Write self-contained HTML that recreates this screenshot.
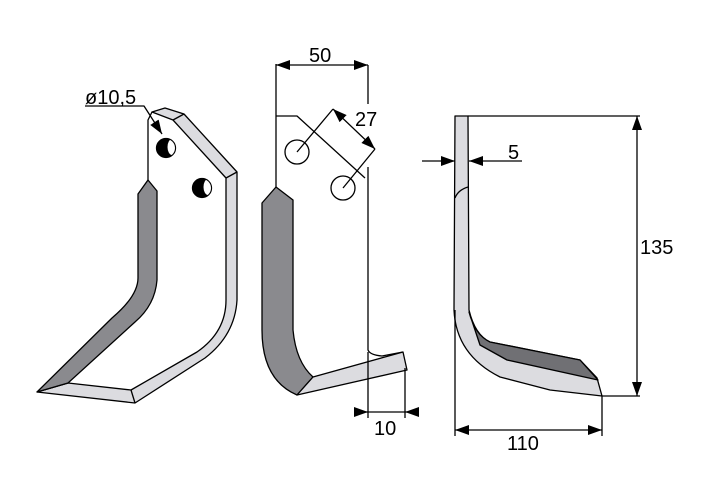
<!DOCTYPE html>
<html><head><style>body{margin:0;background:#fff}svg{display:block}text{font-family:"Liberation Sans",sans-serif;font-size:20px;fill:#000}</style></head>
<body>
<svg width="712" height="500" viewBox="0 0 712 500" xmlns="http://www.w3.org/2000/svg">
<defs>
<marker id="b" viewBox="0 0 14 10" refX="14" refY="5" markerWidth="14" markerHeight="10" markerUnits="userSpaceOnUse" orient="auto-start-reverse"><path d="M0,0 L14,5 L0,10 z" fill="#000"/></marker>
<clipPath id="h1"><circle cx="166" cy="148" r="9"/></clipPath>
<clipPath id="h2"><circle cx="202" cy="188" r="9"/></clipPath>
</defs>
<g stroke="#000" stroke-width="1.3" stroke-linejoin="round">
<!-- LEFT BLADE -->
<path d="M152,112 L165,108 L184,114 L237,172 L237,300 Q235,335 205,358 L135,403 L37,392 L68,383 L131,390 L197,352 Q226,332 226,300 L226,178 L173,120 Z" fill="#dcdce0"/>
<path d="M173,120 L184,114 M226,178 L237,172 M131,390 L135,403 M68,383 L37,392" fill="none"/>
<path d="M148,180 L157,191 L157,280 Q155,305 135,322 L68,383 L37,392 L112,318 Q138,296 138,278 L138,194 Z" fill="#8a8a8e"/>
<path d="M148,180 L148,120 L152,112" fill="none"/>
<circle cx="166" cy="148" r="9.5" fill="#000"/>
<ellipse cx="172" cy="147" rx="4.5" ry="8" fill="#fff" stroke="none" clip-path="url(#h1)"/>
<circle cx="202" cy="188" r="9.5" fill="#000"/>
<ellipse cx="208" cy="187" rx="4.5" ry="8" fill="#fff" stroke="none" clip-path="url(#h2)"/>
<path d="M85,106 L144,106 L162,134" fill="none" marker-end="url(#b)"/>
<!-- MIDDLE BLADE -->
<path d="M276,64 L276,187 M368,65 L368,104 M368,167 L368,350 Q370,355 382,356 L403,352" fill="none"/>
<path d="M276,116 L297,116 L365,178" fill="none"/>
<circle cx="297" cy="152" r="12" fill="#fff"/><circle cx="343" cy="188" r="12" fill="#fff"/>
<path d="M297,152 L333,109 M343,188 L375,149" fill="none"/>
<path d="M333,109 L375,149" fill="none" marker-start="url(#b)" marker-end="url(#b)"/>
<path d="M276,65 L368,65" fill="none" marker-start="url(#b)" marker-end="url(#b)"/>
<path d="M276,187 L293,200 L293,330 Q296,362 313,377 L297,395 Q262,380 262,330 L262,203 Z" fill="#8a8a8e"/>
<path d="M313,377 L403,352 L407,370 L297,395 Z" fill="#dcdce0"/>
<path d="M368,352 L368,418 M405,368 L405,418" fill="none"/>
<path d="M354,412 L368,412" fill="none" marker-end="url(#b)"/><path d="M419,412 L405,412" fill="none" marker-end="url(#b)"/>
<path d="M368,412 L405,412" fill="none"/>
<!-- RIGHT BLADE -->
<path d="M455,116 L468,116 L469,310 Q475,335 490,342 L580,360 L597,378 L602,396 L550,390 L500,377 Q456,355 454,310 Z" fill="#dcdce0"/>
<path d="M469,312 L480,345 L507,360 L598,380 L580,360 L490,342 Q475,335 469,312 Z" fill="#707074"/>
<path d="M455,198 Q458,190 468,187" fill="none"/>
<path d="M468,116 L640,116 M602,396 L640,396" fill="none"/>
<path d="M637,116 L637,396" fill="none" marker-start="url(#b)" marker-end="url(#b)"/>
<path d="M422,161 L455,161" fill="none" marker-end="url(#b)"/>
<path d="M522,161 L469,161" fill="none" marker-end="url(#b)"/>
<path d="M455,310 L455,436 M602,396 L602,436" fill="none"/>
<path d="M455,430 L602,430" fill="none" marker-start="url(#b)" marker-end="url(#b)"/>
</g>
<text x="85" y="104">ø10,5</text>
<text x="309" y="62">50</text>
<text x="355" y="126">27</text>
<text x="374" y="435">10</text>
<text x="508" y="159">5</text>
<text x="640" y="254">135</text>
<text x="507" y="450">110</text>
</svg>
</body></html>
